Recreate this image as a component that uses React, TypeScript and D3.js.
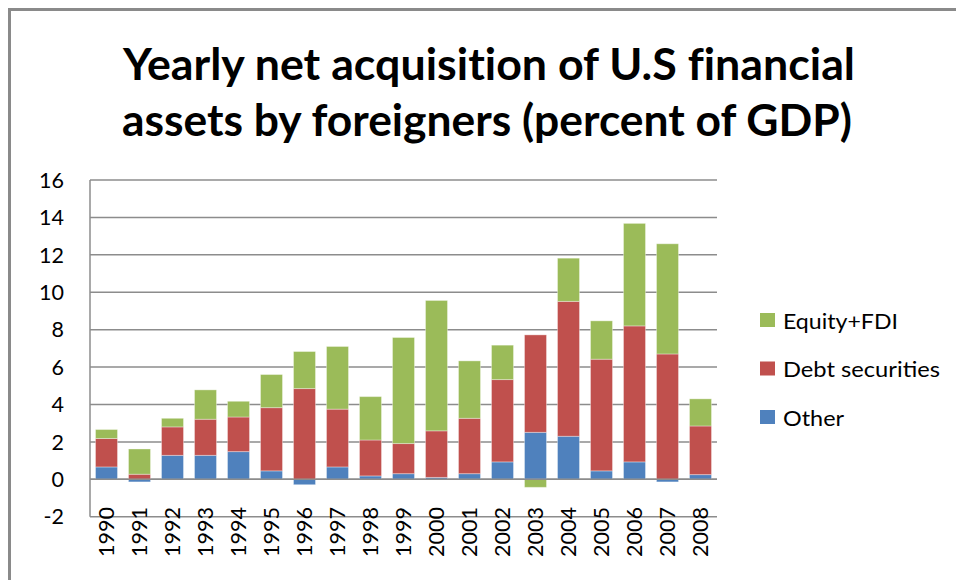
import React from "react";
import * as d3 from "d3";

const years = ["1990","1991","1992","1993","1994","1995","1996","1997","1998","1999","2000","2001","2002","2003","2004","2005","2006","2007","2008"];
const other = [0.66,-0.14,1.28,1.28,1.48,0.45,-0.29,0.66,0.18,0.30,0.10,0.30,0.93,2.51,2.30,0.45,0.93,-0.14,0.25];
const debt = [1.52,0.27,1.52,1.93,1.85,3.38,4.85,3.09,1.92,1.61,2.49,2.96,4.40,5.21,7.21,5.97,7.27,6.70,2.60];
const equity = [0.48,1.35,0.46,1.57,0.84,1.77,1.98,3.35,2.32,5.67,6.97,3.07,1.84,-0.43,2.31,2.05,5.48,5.89,1.45];
const yTicks = [-2,0,2,4,6,8,10,12,14,16];
const seriesNames = ["Other","Debt securities","Equity+FDI"];
const seriesColors = ["#4F81BD","#C0504D","#9BBB59"];
const legendOrder = ["Equity+FDI","Debt securities","Other"];
const legendWidths = [115, 157, 61];
const titleLines = ["Yearly net acquisition of U.S financial","assets by foreigners (percent of GDP)"];

const FONT = "Lato, 'Open Sans', 'DejaVu Sans', sans-serif";

export default function App() {
  const W = 956, H = 580;
  const plot = { left: 90, right: 717, top: 180, bottom: 516.7 };
  const x = d3.scaleBand<string>().domain(years).range([plot.left, plot.right]).paddingInner(1/3).paddingOuter(1/6);
  const y = d3.scaleLinear().domain([-2, 16]).range([plot.bottom, plot.top]);

  const rows = years.map((yr, i) => ({ year: yr, "Other": other[i], "Debt securities": debt[i], "Equity+FDI": equity[i] }));
  const stack = d3.stack<any>().keys(seriesNames).offset(d3.stackOffsetDiverging);
  const layers = stack(rows);
  const colorOf = d3.scaleOrdinal<string,string>().domain(seriesNames).range(seriesColors);

  const gridColor = "#8c8c8c";
  const noLig: React.CSSProperties = { fontVariantLigatures: "none", fontFeatureSettings: "'liga' 0" };

  return (
    <svg width={W} height={H} style={{ position: "absolute", left: 0, top: 0, display: "block", background: "#fff" }}>
      {/* frame */}
      <path d={`M9.5,${H} L9.5,9.5 L${W},9.5`} fill="none" stroke="#8a8a8a" strokeWidth={3} />
      {/* title */}
      {titleLines.map((t, i) => (
        <text key={i} x={i === 0 ? 123 : 122} y={i === 0 ? 80 : 136} fontFamily={FONT} fontWeight={700} fontSize={44}
          fill="#000" style={noLig} textLength={i === 0 ? 732 : 730} lengthAdjust="spacingAndGlyphs">{t}</text>
      ))}
      {/* gridlines */}
      {yTicks.map(t => (
        <line key={t} x1={plot.left} x2={plot.right} y1={y(t)} y2={y(t)} stroke={gridColor} strokeWidth={1.5} />
      ))}
      {/* y axis */}
      <line x1={plot.left} x2={plot.left} y1={plot.top} y2={plot.bottom} stroke={gridColor} strokeWidth={1.5} />
      {yTicks.map(t => (
        <text key={"l" + t} x={64} y={y(t)} dy="0.36em" textAnchor="end" fontFamily={FONT} fontSize={21.5} fill="#000">{t}</text>
      ))}
      {/* bars */}
      {layers.map(layer => (
        <g key={layer.key} fill={colorOf(layer.key)}>
          {layer.map((d, i) => {
            const y0 = y(d[0]), y1 = y(d[1]);
            const top = Math.min(y0, y1), h = Math.abs(y1 - y0);
            if (h < 0.01) return null;
            return <rect key={i} x={x(years[i])} y={top} width={x.bandwidth()} height={h}
              stroke="#ffffff" strokeOpacity={0.35} strokeWidth={1} />;
          })}
        </g>
      ))}
      {/* zero axis line */}
      <line x1={plot.left} x2={plot.right} y1={y(0)} y2={y(0)} stroke={gridColor} strokeWidth={1.5} />
      {/* x labels */}
      {years.map(yr => {
        const cx = (x(yr) as number) + x.bandwidth() / 2;
        return (
          <text key={yr} transform={`translate(${cx},507) rotate(-90)`} dy="0.36em" textAnchor="end"
            fontFamily={FONT} fontSize={21.5} fill="#000" textLength={50} lengthAdjust="spacingAndGlyphs">{yr}</text>
        );
      })}
      {/* legend */}
      {legendOrder.map((name, i) => (
        <g key={name} transform={`translate(760,${313 + i * 48.5})`}>
          <rect x={0} y={0} width={15} height={14} fill={colorOf(name)} />
          <text x={23} y={15.5} fontFamily={FONT} fontSize={21} fill="#000"
            textLength={legendWidths[i]} lengthAdjust="spacingAndGlyphs">{name}</text>
        </g>
      ))}
    </svg>
  );
}
